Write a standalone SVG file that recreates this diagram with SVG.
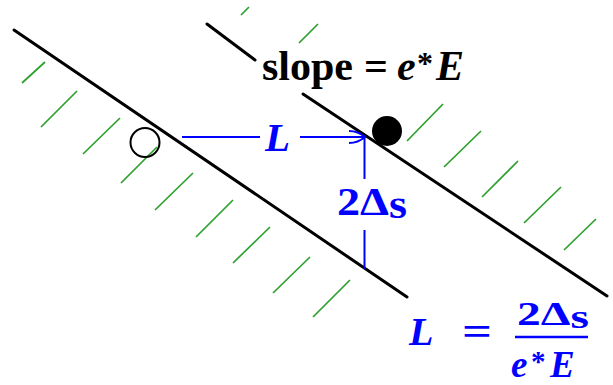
<svg xmlns="http://www.w3.org/2000/svg" width="613" height="385" viewBox="0 0 613 385">
<style>
.bnd{stroke:#000;stroke-width:3;fill:none;stroke-linecap:round}
.hatch{stroke:#2ca02c;stroke-width:1.7;fill:none}
.conn{stroke:#0000ff;stroke-width:2;fill:none}
.txt{font-family:"Liberation Serif","Times New Roman",serif;font-weight:bold}
.blue{fill:#0000ff}
.it{font-style:italic}
</style>
<rect width="613" height="385" fill="#fff"/>
<g id="hatching">
<path class="hatch" d="M22,83L45,62M41,127L77,91M83,154L120,118M121,183L157,147M155,210L193,173M196,237L233,200M233,263L270,227M273,293L310,257M313,317L350,280"/>
<path class="hatch" d="M241,15L249,7M299,43L318,24"/>
<path class="hatch" d="M407,141L443,104M444,167L481,131M482,197L518,161M524,223L561,187M564,250L596,219"/>
</g>
<g id="surface-left">
<line class="bnd" x1="14" y1="30" x2="407" y2="297"/>
</g>
<g id="surface-right">
<line class="bnd" x1="207" y1="24" x2="255" y2="60"/>
<line class="bnd" x1="303" y1="94" x2="607" y2="296"/>
</g>
<g id="open-point">
<circle cx="145" cy="142.5" r="14.5" fill="none" stroke="#000" stroke-width="2"/>
</g>
<g id="filled-point">
<circle cx="387" cy="131" r="15" fill="#000"/>
</g>
<g id="connectors">
<line class="conn" x1="182" y1="137" x2="260" y2="137"/>
<line class="conn" x1="300" y1="137" x2="365" y2="137"/>
<path class="conn" d="M349,131Q358,131 365,137Q358,143 349,143"/>
<line class="conn" x1="364.5" y1="137" x2="364.5" y2="179"/>
<line class="conn" x1="364.5" y1="230" x2="364.5" y2="269"/>
</g>
<g id="label-L">
<text class="txt blue it" x="265" y="151" font-size="41">L</text>
</g>
<g id="label-slope">
<text class="txt" font-size="42" y="80"><tspan x="262">slope</tspan><tspan x="364">=</tspan><tspan class="it" x="397">e</tspan><tspan x="417" dy="-6" font-size="32">*</tspan><tspan class="it" x="436" dy="6">E</tspan></text>
</g>
<g id="label-2ds">
<text class="txt blue" font-size="40" x="337" y="215" textLength="70" lengthAdjust="spacingAndGlyphs">2Δ<tspan dy="3">s</tspan></text>
</g>
<g id="formula">
<text class="txt blue it" x="409" y="345" font-size="40">L</text>
<text class="txt blue" x="462" y="345" font-size="40" textLength="30" lengthAdjust="spacingAndGlyphs">=</text>
<text class="txt blue" font-size="33" x="517" y="325" textLength="72" lengthAdjust="spacingAndGlyphs">2Δ<tspan dy="3">s</tspan></text>
<line x1="515" y1="337" x2="588" y2="337" stroke="#0000ff" stroke-width="2.5"/>
<text class="txt blue" font-size="37" y="377"><tspan class="it" x="511">e</tspan><tspan x="531" dy="-6" font-size="29">*</tspan><tspan class="it" x="550" dy="6">E</tspan></text>
</g>
</svg>
